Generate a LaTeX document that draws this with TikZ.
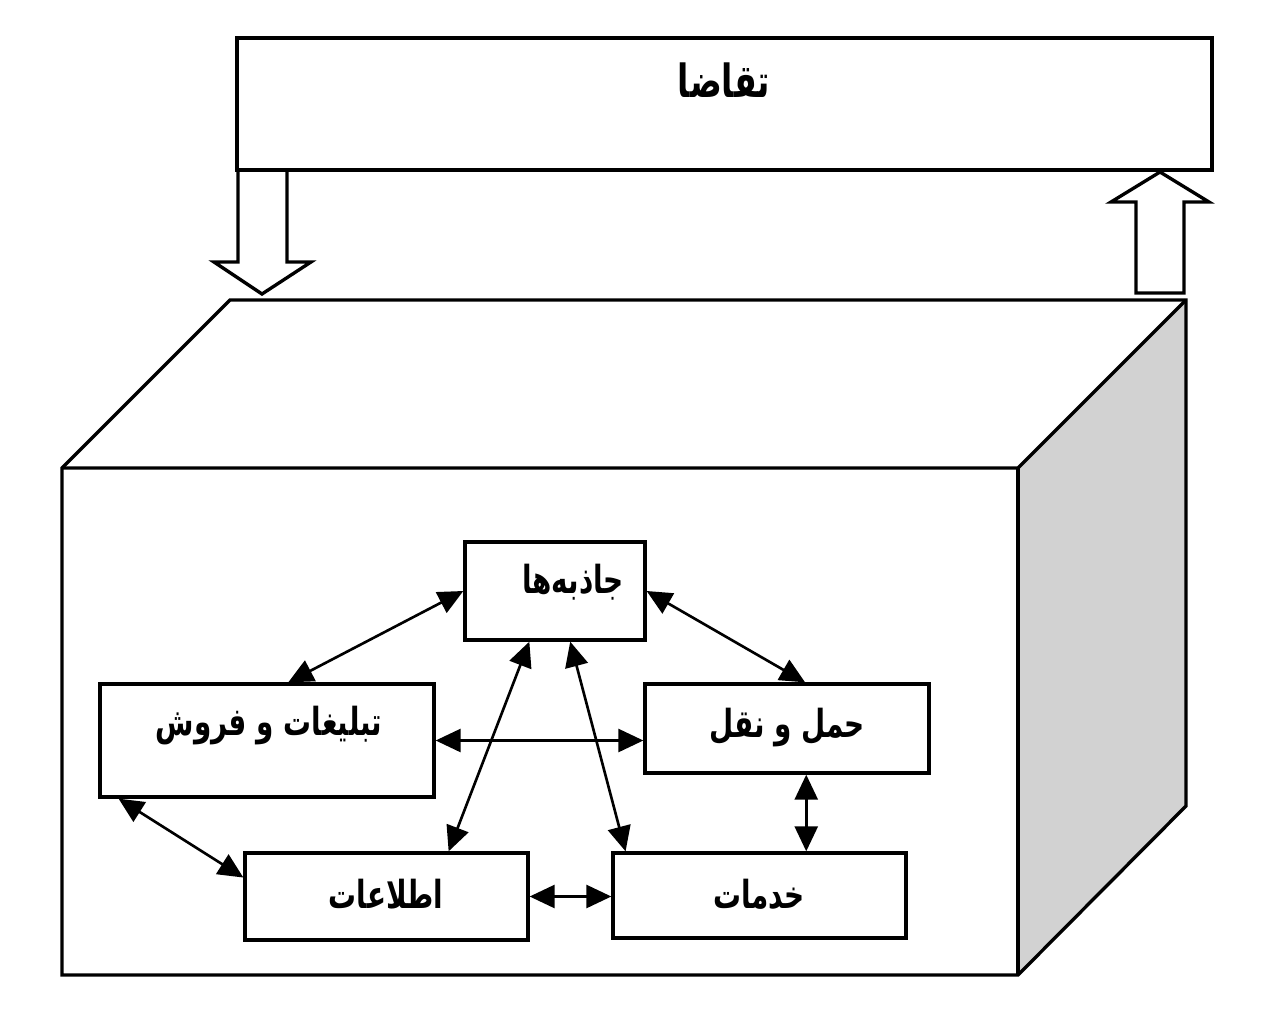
\documentclass[tikz,border=0pt]{standalone}
\usepackage{fontspec}
\newfontfamily\farsifont[Script=Arabic, FakeStretch=0.72]{DejaVu Sans}
\TeXXeTstate=1
\usetikzlibrary{arrows.meta,calc}

\begin{document}
\begin{tikzpicture}[x=0.02cm, y=-0.02cm,
    box/.style={draw, line width=1.9pt, rectangle, inner sep=0pt},
    lbl/.style={font=\farsifont\bfseries\fontsize{22}{26}\selectfont, inner sep=0pt},
    link/.style={{Triangle[length=0.5cm,width=0.46cm]}-{Triangle[length=0.5cm,width=0.46cm]}, line width=1.5pt}]
    % Define colors
    \definecolor{sidegray}{RGB}{210,210,210}

    \useasboundingbox (0,0) rectangle (1276,1018);

    % Draw the 3D box
    \fill[sidegray] (1018,468) -- (1186,300) -- (1186,806) -- (1018,975) -- cycle;
    \draw[line width=1.9pt, line join=miter] (62,468) -- (230,300) -- (1186,300) -- (1186,806) -- (1018,975) -- (62,975) -- cycle;
    \draw[line width=1.9pt] (62,468) -- (1018,468) -- (1186,300);
    \draw[line width=1.9pt] (1018,468) -- (1018,975);

    % Draw demand box and hollow arrows
    \node[box, minimum width=19.5cm, minimum height=2.64cm] (taqaza) at (724.5,104) {};
    \node[lbl, font=\farsifont\bfseries\fontsize{26}{30}\selectfont] (taqazaT) at (724,80) {\beginR تقاضا\endR};
    \draw[line width=1.9pt, line join=miter] (238,171) -- (238,262) -- (214,262) -- (262,294) -- (311,262) -- (287,262) -- (287,171);
    \draw[line width=1.9pt, line join=miter] (1136,293) -- (1136,202) -- (1111,202) -- (1160,172) -- (1209,202) -- (1184,202) -- (1184,293) -- cycle;

    % Draw nodes
    \node[box, minimum width=3.6cm, minimum height=1.96cm] (jazebe) at (555,591) {};
    \node[box, minimum width=6.68cm, minimum height=2.26cm] (tabligh) at (267,740.5) {};
    \node[box, minimum width=5.68cm, minimum height=1.78cm] (haml) at (787,728.5) {};
    \node[box, minimum width=5.66cm, minimum height=1.74cm] (ettelaat) at (386.5,896.5) {};
    \node[box, minimum width=5.86cm, minimum height=1.7cm] (khadamat) at (759.5,895.5) {};

    % Add labels
    \node[lbl] (jazebeT) at (573,582) {\beginR جاذبه‌ها\endR};
    \node[lbl] (tablighT) at (269,726) {\beginR تبلیغات و فروش\endR};
    \node[lbl] (hamlT) at (787,728) {\beginR حمل و نقل\endR};
    \node[lbl] (ettelaatT) at (386,894) {\beginR اطلاعات\endR};
    \node[lbl] (khadamatT) at (759,894) {\beginR خدمات\endR};

    % Draw arrows
    \draw[link] (jazebe.west) -- ($(tabligh.north west)!0.563!(tabligh.north east)$);
    \draw[link] (jazebe.east) -- ($(haml.north west)!0.563!(haml.north east)$);
    \draw[link] (tabligh.east) -- (tabligh.east -| haml.west);
    \draw[link] ($(jazebe.south west)!0.36!(jazebe.south east)$) -- ($(ettelaat.north west)!0.717!(ettelaat.north east)$);
    \draw[link] ($(jazebe.south west)!0.583!(jazebe.south east)$) -- ($(khadamat.north west)!0.048!(khadamat.north east)$);
    \draw[link] ($(tabligh.south west)!0.06!(tabligh.south east)$) -- ($(ettelaat.north west)!0.29!(ettelaat.south west)$);
    \draw[link] (ettelaat.east) -- (ettelaat.east -| khadamat.west);
    \draw[link] ($(haml.south west)!0.567!(haml.south east)$) coordinate (hamlS) -- (hamlS |- khadamat.north);
\end{tikzpicture}
\end{document}
